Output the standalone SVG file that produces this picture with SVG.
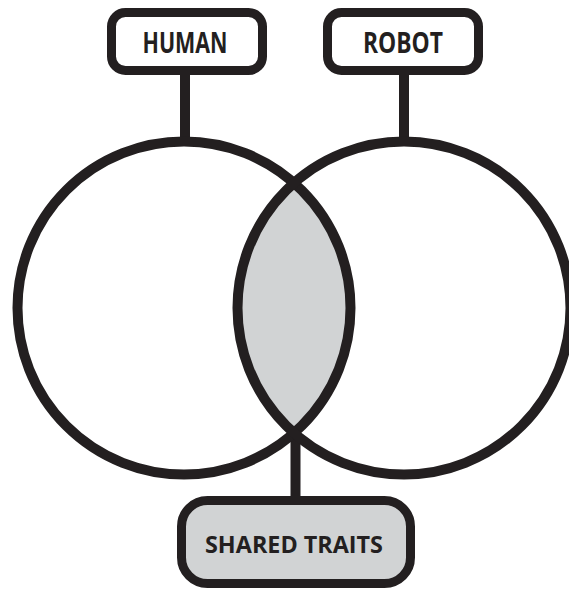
<svg xmlns="http://www.w3.org/2000/svg" width="569" height="589" viewBox="0 0 569 589">
<style>
.ln{stroke:#231f20;stroke-width:10;fill:none}
.box{stroke:#231f20;stroke-width:9;fill:#ffffff}
.lbl{font-family:"Open Sans","Liberation Sans",sans-serif;font-weight:bold;fill:#231f20;text-anchor:middle}
</style>
<rect width="569" height="589" fill="#ffffff"/>
<g id="connectors">
<line class="ln" x1="185" y1="74" x2="185" y2="142"/>
<line class="ln" x1="404" y1="74" x2="404" y2="142"/>
<line class="ln" x1="295.5" y1="433" x2="295.5" y2="497"/>
</g>
<g id="venn">
<circle cx="184" cy="308" r="166.5" fill="#ffffff"/>
<circle cx="404" cy="308" r="166.5" fill="#ffffff"/>
<path id="overlap" d="M294,183 A166.5,166.5 0 0 1 294,433 A166.5,166.5 0 0 1 294,183 Z" fill="#d1d3d4"/>
<circle class="ln" cx="184" cy="308" r="166.5"/>
<circle class="ln" cx="404" cy="308" r="166.5"/>
</g>
<g id="human">
<rect class="box" x="111.5" y="12.5" width="151" height="58" rx="14"/>
<text class="lbl" x="185" y="53" font-size="28" textLength="85" lengthAdjust="spacingAndGlyphs">HUMAN</text>
</g>
<g id="robot">
<rect class="box" x="327.5" y="12.5" width="151" height="58" rx="14"/>
<text class="lbl" x="403" y="53" font-size="28" textLength="80" lengthAdjust="spacingAndGlyphs">ROBOT</text>
</g>
<g id="shared">
<rect class="box" x="181.5" y="500.5" width="229" height="83" rx="26" fill="#d1d3d4" style="fill:#d1d3d4"/>
<text class="lbl" x="294" y="553" font-size="23.5" textLength="178" lengthAdjust="spacingAndGlyphs">SHARED TRAITS</text>
</g>
</svg>
